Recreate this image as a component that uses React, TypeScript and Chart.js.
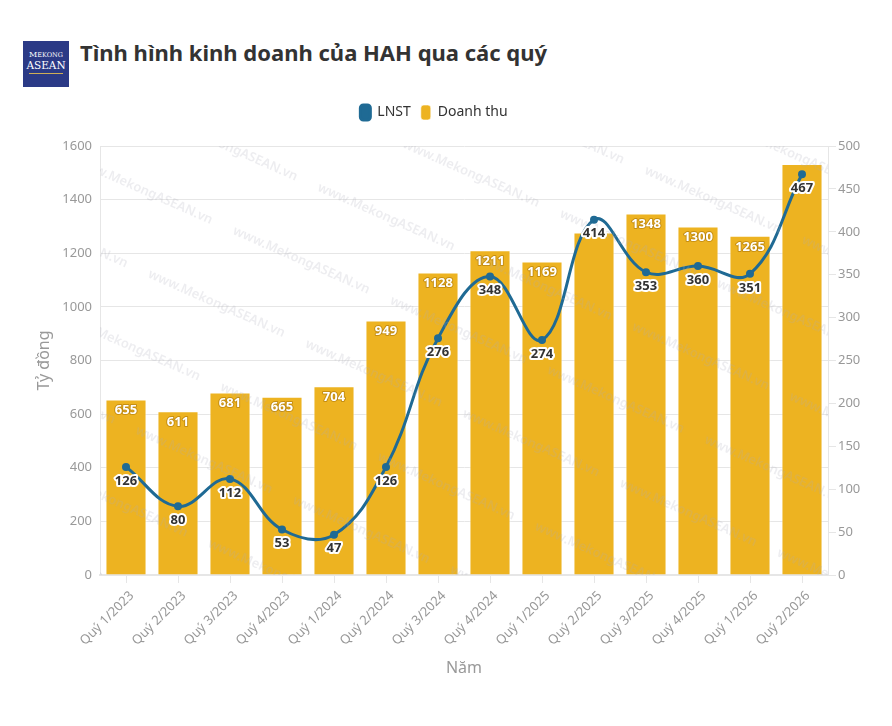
import React, { useEffect, useRef } from "react";
import { Chart, registerables } from "chart.js";

Chart.register(...registerables);

const categories = [
  "Quý 1/2023", "Quý 2/2023", "Quý 3/2023", "Quý 4/2023",
  "Quý 1/2024", "Quý 2/2024", "Quý 3/2024", "Quý 4/2024",
  "Quý 1/2025", "Quý 2/2025", "Quý 3/2025", "Quý 4/2025",
  "Quý 1/2026", "Quý 2/2026",
];
const revenue = [655, 611, 681, 665, 704, 949, 1128, 1211, 1169, 1277, 1348, 1300, 1265, 1533];
const profit = [126, 80, 112, 53, 47, 126, 276, 348, 274, 414, 353, 360, 351, 467];
const leftTicks = [0, 200, 400, 600, 800, 1000, 1200, 1400, 1600];
const rightTicks = [0, 50, 100, 150, 200, 250, 300, 350, 400, 450, 500];

const TITLE = "Tình hình kinh doanh của HAH qua các quý";
const WATERMARK = "www.MekongASEAN.vn";
const FONT = '"Noto Sans", "Open Sans", sans-serif';
const BAR_COLOR = "#EDB321";
const LINE_COLOR = "#1F6A94";
const AXIS_TEXT = "#999999";
const GRID = "#e6e6e6";

const legendSpace = {
  id: "legendSpace",
  beforeInit(chart: any) {
    const legend = chart.legend;
    if (!legend) return;
    const orig = legend.fit;
    legend.fit = function () {
      orig.call(this);
      this.height = 51;
    };
  },
};

const watermarkPlugin = {
  id: "watermark",
  afterDatasetsDraw(chart: any) {
    const { ctx, chartArea } = chart;
    ctx.save();
    ctx.beginPath();
    ctx.rect(chartArea.left, chartArea.top, chartArea.right - chartArea.left, chartArea.bottom - chartArea.top);
    ctx.clip();
    ctx.font = `600 13px ${FONT}`;
    ctx.fillStyle = "rgba(175,175,185,0.22)";
    ctx.textAlign = "center";
    ctx.textBaseline = "middle";
    const ang = (23.9 * Math.PI) / 180;
    const ux = Math.cos(ang), uy = Math.sin(ang);
    const nx = -Math.sin(ang), ny = Math.cos(ang);
    for (let k = -8; k <= 12; k++) {
      const perp = -32 + 74 * k;
      const off = 157 - 60 * k;
      for (let m = -8; m <= 8; m++) {
        const along = off + 172 * m;
        const x = ux * along + nx * perp;
        const y = uy * along + ny * perp;
        if (x < chartArea.left - 120 || x > chartArea.right + 120 || y < chartArea.top - 80 || y > chartArea.bottom + 80) continue;
        ctx.save();
        ctx.translate(x, y);
        ctx.rotate(ang);
        ctx.fillText(WATERMARK, 0, 0);
        ctx.restore();
      }
    }
    ctx.restore();
  },
};

const labelsPlugin = {
  id: "valueLabels",
  afterDatasetsDraw(chart: any) {
    const { ctx } = chart;
    const lineMeta = chart.getDatasetMeta(0);
    const barMeta = chart.getDatasetMeta(1);
    ctx.save();
    ctx.font = `bold 13px ${FONT}`;
    ctx.textAlign = "center";
    ctx.textBaseline = "middle";
    ctx.lineJoin = "round";
    const lineLabelY = lineMeta.data.map((p: any) => p.y + 14);
    barMeta.data.forEach((bar: any, i: number) => {
      const y = bar.y + 11;
      if (Math.abs(y - lineLabelY[i]) < 16) return;
      const txt = String(revenue[i]);
      ctx.lineWidth = 2;
      ctx.strokeStyle = "rgba(150,100,0,0.45)";
      ctx.strokeText(txt, bar.x, y);
      ctx.fillStyle = "#ffffff";
      ctx.fillText(txt, bar.x, y);
    });
    lineMeta.data.forEach((pt: any, i: number) => {
      const txt = String(profit[i]);
      const y = lineLabelY[i];
      ctx.lineWidth = 4;
      ctx.strokeStyle = "#ffffff";
      ctx.strokeText(txt, pt.x, y);
      ctx.fillStyle = "#333333";
      ctx.fillText(txt, pt.x, y);
    });
    ctx.restore();
  },
};

export default function App() {
  const ref = useRef<HTMLCanvasElement>(null);
  useEffect(() => {
    if (!ref.current) return;
    const chart = new Chart(ref.current, {
      type: "bar",
      data: {
        labels: categories,
        datasets: [
          {
            type: "line",
            label: "LNST",
            data: profit,
            yAxisID: "y1",
            borderColor: LINE_COLOR,
            backgroundColor: LINE_COLOR,
            borderWidth: 3,
            pointRadius: 4,
            pointHoverRadius: 4,
            pointBackgroundColor: LINE_COLOR,
            pointBorderWidth: 0,
            tension: 0.4,
            order: 0,
          } as any,
          {
            type: "bar",
            label: "Doanh thu",
            data: revenue,
            yAxisID: "y",
            backgroundColor: BAR_COLOR,
            borderColor: "rgba(255,255,255,0.6)",
            borderWidth: 1,
            barPercentage: 0.79,
            categoryPercentage: 1,
            order: 1,
          } as any,
        ],
      },
      options: {
        responsive: false,
        animation: false,
        layout: { padding: { left: 8, right: 32, top: 95, bottom: 48 } },
        plugins: {
          tooltip: { enabled: false },
          legend: {
            display: true,
            position: "top",
            align: "center",
            labels: {
              boxWidth: 10,
              boxHeight: 15,
              useBorderRadius: true,
              borderRadius: 3,
              padding: 10,
              color: "#333333",
              font: { family: FONT, size: 14 },
            },
          },
        },
        scales: {
          x: {
            offset: true,
            grid: {
              display: true,
              drawOnChartArea: false,
              drawTicks: true,
              tickLength: 8,
              offset: false,
              color: GRID,
            },
            border: { display: true, color: GRID, width: 2 },
            ticks: {
              color: AXIS_TEXT,
              font: { family: FONT, size: 13 },
              minRotation: 45,
              maxRotation: 45,
              autoSkip: false,
              padding: 5,
              labelOffset: 6,
            },
            title: {
              display: true,
              text: "Năm",
              color: AXIS_TEXT,
              font: { family: FONT, size: 16 },
              padding: { top: 0, bottom: 0 },
            },
            afterFit(scale: any) {
              scale.height = 103;
            },
          },
          y: {
            position: "left",
            min: 0,
            max: 1600,
            afterBuildTicks(scale: any) {
              scale.ticks = leftTicks.map((v) => ({ value: v }));
            },
            grid: { color: GRID, drawTicks: false, lineWidth: 1 },
            border: { display: true, color: GRID },
            ticks: {
              color: AXIS_TEXT,
              font: { family: FONT, size: 13 },
              padding: 8,
              callback: (v: any) => String(v),
            },
            title: {
              display: true,
              text: "Tỷ đồng",
              color: AXIS_TEXT,
              font: { family: FONT, size: 16 },
              padding: { top: 27, bottom: 0 },
            },
            afterFit(scale: any) {
              scale.width = 92;
            },
          },
          y1: {
            position: "right",
            min: 0,
            max: 500,
            afterBuildTicks(scale: any) {
              scale.ticks = rightTicks.map((v) => ({ value: v }));
            },
            grid: {
              drawOnChartArea: false,
              drawTicks: true,
              tickLength: 8,
              color: GRID,
            },
            border: { display: true, color: GRID },
            ticks: {
              color: AXIS_TEXT,
              font: { family: FONT, size: 13 },
              padding: 2,
              callback: (v: any) => String(v),
            },
            afterFit(scale: any) {
              scale.width = 32;
            },
          },
        },
      },
      plugins: [legendSpace, watermarkPlugin, labelsPlugin],
    });
    return () => chart.destroy();
  }, []);

  return (
    <div style={{ position: "absolute", left: 0, top: 0, width: 892, height: 726, background: "#fff" }}>
      <div
        style={{
          position: "absolute",
          left: 23,
          top: 41,
          width: 46,
          height: 46,
          background: "#2B3A86",
          color: "#fff",
          fontFamily: '"DejaVu Serif", "Liberation Serif", serif',
          textAlign: "center",
        }}
      >
        <div style={{ position: "absolute", top: 9, left: 0, width: 46, fontSize: 8, lineHeight: "9px" }}>
          M<span style={{ fontSize: 6.5 }}>EKONG</span>
        </div>
        <div style={{ position: "absolute", top: 18, left: 0, width: 46, fontSize: 10.5, lineHeight: "12px" }}>ASEAN</div>
        <div style={{ position: "absolute", top: 32, left: 6, width: 34, height: 1, background: "#cfae56" }} />
      </div>
      <div
        style={{
          position: "absolute",
          left: 80,
          top: 38,
          fontFamily: FONT,
          fontWeight: 700,
          fontSize: 22,
          lineHeight: "28px",
          color: "#333333",
          whiteSpace: "nowrap",
        }}
      >
        {TITLE}
      </div>
      <canvas ref={ref} width={892} height={726} style={{ position: "absolute", left: 0, top: 0, width: 892, height: 726 }} />
    </div>
  );
}
